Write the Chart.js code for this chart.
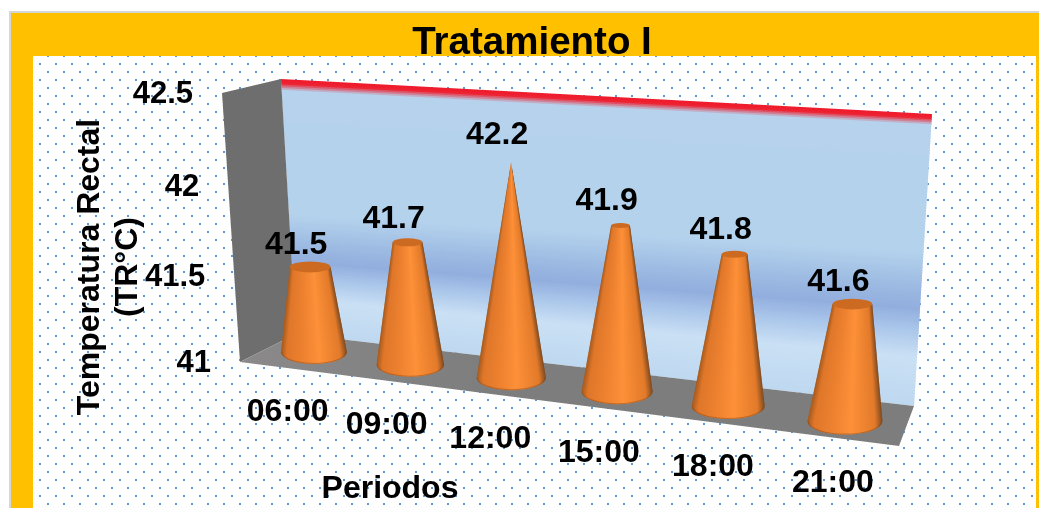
<!DOCTYPE html>
<html>
<head>
<meta charset="utf-8">
<title>Tratamiento I</title>
<script src="https://cdn.jsdelivr.net/npm/chart.js@4/dist/chart.umd.min.js"></script>
<style>
  html, body { margin: 0; padding: 0; background: #fff; }
  #wrap { width: 1039px; height: 508px; }
</style>
</head>
<body>
<div id="wrap"><canvas id="canvas" width="1039" height="508"></canvas></div>
<script>
// chart data
const periodos = ['06:00', '09:00', '12:00', '15:00', '18:00', '21:00'];
const temperatura = [41.5, 41.7, 42.2, 41.9, 41.8, 41.6];
const tempMin = 41;
const tempMax = 42.5;
const tempStep = 0.5;

const titulo = 'Tratamiento I';
const tituloY = ['Temperatura Rectal', '(TR°C)'];
const tituloX = 'Periodos';

const FONT = '"Liberation Sans", Arial, sans-serif';

// box corners on screen
const wallTL = [281, 79], wallTR = [932, 114], wallBR = [914, 406], wallBL = [296, 334];
const sideT = [222, 93], sideB = [240, 362];
const floorR = [899, 446];

// foreshortening along x: right side is nearer
function persp(u) {
  return u / (u + (1 - u) * 1.155);
}

// turns a point of the flat chart area into its place on the slanted plane
function project(chart, px, py) {
  const a = chart.chartArea;
  const u = (px - a.left) / a.width;
  const v = (a.bottom - py) / a.height;
  const p = persp(u);
  const baseX = 267.4 + 638.2 * p;
  const baseY = 346 + 83 * p;
  const h = 252 + 45 * p;
  return {
    p: p,
    v: v,
    baseX: baseX,
    baseY: baseY,
    x: baseX + v * (-14 + 36 * p),
    y: baseY - v * h
  };
}

function quad(ctx, pts, fill) {
  ctx.beginPath();
  ctx.moveTo(pts[0][0], pts[0][1]);
  for (let i = 1; i < pts.length; i++) ctx.lineTo(pts[i][0], pts[i][1]);
  ctx.closePath();
  ctx.fillStyle = fill;
  ctx.fill();
}

function lerp(a, b, t) {
  return a + (b - a) * t;
}

// colour of the back wall from its top edge (0) to the floor (1)
const wallStops = [
  [0.000, [238, 28, 44]],
  [0.012, [238, 32, 48]],
  [0.036, [182, 210, 236]],
  [0.490, [180, 210, 236]],
  [0.610, [156, 186, 226]],
  [0.680, [146, 174, 222]],
  [0.750, [170, 198, 234]],
  [0.840, [202, 224, 244]],
  [1.000, [190, 216, 240]]
];

function wallColor(t) {
  for (let i = 1; i < wallStops.length; i++) {
    if (t <= wallStops[i][0]) {
      const a = wallStops[i - 1], b = wallStops[i];
      const k = (t - a[0]) / (b[0] - a[0]);
      return 'rgb(' + [0, 1, 2].map(c => Math.round(lerp(a[1][c], b[1][c], k))).join(',') + ')';
    }
  }
  return 'rgb(190,216,240)';
}

function drawBackground(chart) {
  const ctx = chart.ctx;
  ctx.save();
  ctx.fillStyle = '#ffffff';
  ctx.fillRect(0, 0, 1039, 508);
  ctx.fillStyle = '#d6d6d6';
  ctx.fillRect(9, 11, 1030, 497);
  ctx.fillStyle = '#ffc000';
  ctx.fillRect(11, 13, 1028, 495);
  ctx.fillStyle = '#ffffff';
  ctx.fillRect(33, 56, 1003, 452);

  // dotted panel fill
  ctx.fillStyle = '#5b9bd5';
  for (let y = 55; y < 508; y += 8) {
    const even = (y - 55) % 16 === 0;
    for (let x = even ? 47 : 39; x < 1036; x += 16) {
      ctx.fillRect(x, Math.max(y, 56), 2, y < 56 ? 1 : 2);
    }
  }

  // back wall, painted in thin slices; the bands run flatter than the floor line
  const slices = 160;
  const leftT = t => t + 0.04 * Math.sin(Math.PI * t);
  const rightT = t => t - 0.02 * Math.sin(Math.PI * t);
  for (let i = 0; i < slices; i++) {
    const t0 = i / slices;
    const t1 = Math.min((i + 1.5) / slices, 1);
    const l0 = leftT(t0), l1 = leftT(t1);
    const r0 = rightT(t0), r1 = rightT(t1);
    quad(ctx, [
      [lerp(wallTL[0], wallBL[0], l0), lerp(wallTL[1], wallBL[1], l0)],
      [lerp(wallTR[0], wallBR[0], r0), lerp(wallTR[1], wallBR[1], r0)],
      [lerp(wallTR[0], wallBR[0], r1), lerp(wallTR[1], wallBR[1], r1)],
      [lerp(wallTL[0], wallBL[0], l1), lerp(wallTL[1], wallBL[1], l1)]
    ], wallColor(t0));
  }

  quad(ctx, [sideT, wallTL, wallBL, sideB], '#6e6e6e');

  const floorFill = ctx.createLinearGradient(240, 0, 500, 0);
  floorFill.addColorStop(0, '#8b8989');
  floorFill.addColorStop(1, '#7d7d7d');
  quad(ctx, [sideB, wallBL, wallBR, floorR], floorFill);
  ctx.restore();
}

// shading is redone for every pixel row so the dark edges follow the taper
function drawCone(ctx, x0, y0, r0, x1, y1, r1) {
  const ry0 = r0 * 0.36;

  ctx.save();
  ctx.beginPath();
  ctx.moveTo(x1 - r1, y1);
  ctx.lineTo(x0 - r0, y0);
  ctx.ellipse(x0, y0, r0, ry0, 0, Math.PI, 0, true);
  ctx.lineTo(x1 + r1, y1);
  ctx.closePath();
  ctx.clip();

  for (let y = Math.floor(y1) - 1; y < y0 + ry0 + 1; y++) {
    const t = Math.min(Math.max((y - y1) / (y0 - y1), 0), 1);
    const cx = lerp(x1, x0, t);
    const r = Math.max(lerp(r1, r0, t), 1);
    const shade = ctx.createLinearGradient(cx - r, 0, cx + r, 0);
    shade.addColorStop(0, '#a65a1e');
    shade.addColorStop(0.09, '#df7629');
    shade.addColorStop(0.35, '#ee8230');
    shade.addColorStop(0.58, '#fd9038');
    shade.addColorStop(0.9, '#e27a2a');
    shade.addColorStop(1, '#7f4a20');
    ctx.fillStyle = shade;
    ctx.fillRect(cx - r - 1, y, 2 * r + 2, 1.5);
  }

  // darker rim along the foot
  ctx.beginPath();
  ctx.ellipse(x0, y0, r0, ry0, 0, Math.PI, 0, true);
  ctx.strokeStyle = 'rgba(120, 62, 20, 0.4)';
  ctx.lineWidth = 2;
  ctx.stroke();
  ctx.restore();

  if (r1 > 0.5) {
    ctx.beginPath();
    ctx.ellipse(x1, y1, r1, r1 * 0.27, 0, 0, Math.PI * 2);
    ctx.fillStyle = '#cc6a21';
    ctx.fill();
  }
}

const boxPlugin = {
  id: 'box3d',
  beforeDraw(chart) {
    drawBackground(chart);
  },
  afterDatasetsDraw(chart) {
    const ctx = chart.ctx;
    const xScale = chart.scales.x;
    const yScale = chart.scales.y;
    const meta = chart.getDatasetMeta(0);
    const peak = Math.max(...temperatura);
    const span = peak - tempMin;

    ctx.save();
    ctx.textBaseline = 'middle';
    ctx.textAlign = 'center';

    // one cone for each bar, narrowing toward the highest reading
    meta.data.forEach((bar, i) => {
      const top = project(chart, bar.x, bar.y);
      const r0 = 32.5 + 5.5 * top.p;
      const r1 = r0 * 1.06 * (peak - temperatura[i]) / span;
      drawCone(ctx, top.baseX, top.baseY, r0, top.x, top.y, r1);
    });

    ctx.fillStyle = '#000';
    ctx.font = 'bold 32px ' + FONT;
    meta.data.forEach((bar, i) => {
      const top = project(chart, bar.x, bar.y);
      ctx.fillText(String(temperatura[i]), top.x - 14, top.y - 17 - 13 * top.v);
    });

    // category labels hang under the slanted floor
    xScale.ticks.forEach((tick, i) => {
      const pos = project(chart, xScale.getPixelForTick(i), chart.chartArea.bottom);
      ctx.fillText(tick.label, pos.baseX - 27.5 + 17 * pos.p, pos.baseY + 60.5 + 1.5 * pos.p);
    });

    // value labels follow the front edge of the side wall
    ctx.textAlign = 'right';
    ctx.font = 'bold 31px ' + FONT;
    yScale.ticks.forEach(tick => {
      const a = chart.chartArea;
      const v = (a.bottom - yScale.getPixelForValue(tick.value)) / a.height;
      const k = v - 0.07 * v * (1 - v);
      ctx.fillText(tick.label, lerp(sideB[0], sideT[0], k) - 29, lerp(sideB[1], sideT[1], k) + 1);
    });

    ctx.textAlign = 'center';
    ctx.font = 'bold 38.5px ' + FONT;
    ctx.fillText(titulo, 532, 43);

    ctx.font = 'bold 32px ' + FONT;
    ctx.fillText(tituloX, 390, 489);

    ctx.translate(90, 267);
    ctx.rotate(-Math.PI / 2);
    ctx.fillText(tituloY[0], 0, 0);
    ctx.fillText(tituloY[1], 0, 38);
    ctx.restore();
  }
};

const myChart = new Chart(document.getElementById('canvas').getContext('2d'), {
  type: 'bar',
  data: {
    labels: periodos,
    datasets: [{
      label: titulo,
      data: temperatura,
      backgroundColor: 'transparent',
      borderWidth: 0
    }]
  },
  options: {
    responsive: false,
    animation: false,
    layout: { padding: { left: 240, right: 125, top: 79, bottom: 62 } },
    plugins: { legend: { display: false }, title: { display: false }, tooltip: { enabled: false } },
    scales: {
      x: { display: false },
      y: {
        display: false,
        min: tempMin,
        max: tempMax,
        ticks: { stepSize: tempStep, callback: value => String(value) }
      }
    }
  },
  plugins: [boxPlugin]
});
</script>
</body>
</html>
